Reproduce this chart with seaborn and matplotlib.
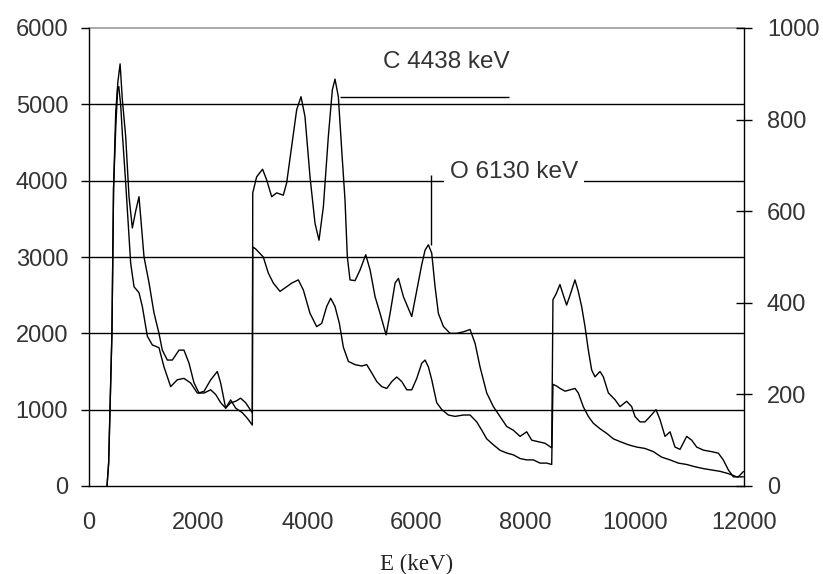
import matplotlib
matplotlib.use("Agg")
import matplotlib.pyplot as plt
import seaborn as sns

# ---------------- data ----------------
# Spectrum A (left axis, counts)
E_A = [330, 360, 385, 420, 450, 490, 530, 570, 611, 672, 733, 794, 855, 916, 1008, 1100,
       1190, 1282, 1343, 1435, 1527, 1649, 1740, 1832, 1924, 2015, 2107, 2229, 2351, 2412,
       2504, 2595, 2687, 2779, 2870, 2992, 3000, 3071, 3180, 3255, 3347, 3438, 3560, 3621,
       3713, 3805, 3884, 3957, 4049, 4141, 4214, 4294, 4385, 4458, 4507, 4568, 4630, 4690,
       4733, 4782, 4874, 4966, 5070, 5150, 5241, 5333, 5443, 5516, 5608, 5669, 5760, 5913,
       6005, 6096, 6157, 6218, 6279, 6340, 6401, 6493, 6615, 6737, 6859, 6981, 7073, 7164,
       7286, 7408, 7531, 7653, 7775, 7897, 8019, 8111, 8233, 8355, 8477, 8500, 8560, 8628,
       8690, 8750, 8813, 8903, 8960, 9026, 9087, 9148, 9209, 9270, 9362, 9423, 9515, 9637,
       9728, 9850, 9942, 10003, 10095, 10186, 10278, 10388, 10461, 10553, 10645, 10736,
       10828, 10950, 11042, 11133, 11255, 11408, 11530, 11622, 11714, 11805, 11897, 11989]
A = [0, 300, 1000, 2000, 3900, 4900, 5300, 5530, 5060, 4580, 3790, 3380, 3600, 3790, 3000, 2660,
     2270, 2000, 1780, 1650, 1650, 1780, 1780, 1610, 1350, 1220, 1240, 1390, 1500, 1350,
     1020, 1090, 1110, 1150, 1090, 960, 3840, 4050, 4150, 4010, 3790, 3840, 3810, 3970,
     4450, 4930, 5100, 4840, 4050, 3440, 3220, 3660, 4580, 5190, 5330, 5100, 4400, 3750,
     3000, 2700, 2690, 2830, 3030, 2830, 2480, 2260, 1980, 2260, 2660, 2720, 2480, 2220,
     2560, 2900, 3090, 3160, 3050, 2610, 2260, 2090, 2000, 2000, 2020, 2050, 1870, 1560,
     1220, 1040, 910, 780, 730, 650, 710, 600, 580, 560, 500, 2440, 2520, 2640,
     2500, 2370, 2500, 2700, 2560, 2350, 2090, 1780, 1520, 1430, 1500, 1430, 1220, 1130,
     1040, 1110, 1040, 910, 840, 840, 910, 1000, 870, 650, 710, 510,
     480, 650, 600, 510, 470, 450, 430, 340, 210, 120, 120, 190]

# Spectrum B (right axis, counts)
E_B = [330, 360, 385, 420, 450, 490, 525, 545, 580, 611, 672, 733, 763, 825, 916, 977,
       1069, 1160, 1282, 1374, 1496, 1618, 1740, 1862, 1985, 2107, 2229, 2320, 2412, 2504,
       2595, 2687, 2809, 2900, 2992, 3000, 3050, 3193, 3285, 3377, 3499, 3621, 3713, 3835,
       3927, 4049, 4171, 4263, 4355, 4428, 4507, 4587, 4660, 4752, 4874, 4996, 5088, 5180,
       5272, 5363, 5455, 5547, 5638, 5730, 5822, 5913, 6005, 6096, 6157, 6218, 6279, 6370,
       6462, 6584, 6706, 6859, 6981, 7103, 7195, 7286, 7408, 7531, 7653, 7775, 7897, 8019,
       8141, 8263, 8386, 8477, 8500, 8570, 8630, 8722, 8813, 8904, 8965, 9056, 9148, 9240,
       9362, 9484, 9606, 9728, 9881, 10034, 10186, 10339, 10492, 10645, 10797, 10950,
       11103, 11255, 11408, 11561, 11714, 11866, 11988]
B = [0, 50, 167, 333, 650, 783, 867, 872, 833, 770, 662, 545, 487, 435, 422, 392,
     327, 308, 302, 260, 217, 232, 235, 225, 203, 203, 210, 200, 182, 170,
     188, 170, 160, 148, 133, 522, 518, 500, 465, 443, 425, 435, 443, 450,
     428, 377, 348, 355, 392, 410, 392, 355, 303, 272, 265, 262, 265, 247,
     228, 217, 213, 228, 238, 228, 210, 210, 235, 268, 275, 260, 232, 182,
     167, 155, 152, 155, 155, 140, 122, 103, 90, 78, 72, 68, 60, 57,
     57, 50, 50, 47, 222, 218, 213, 207, 210, 213, 203, 173, 152, 137,
     125, 115, 103, 97, 90, 85, 82, 75, 63, 57, 50, 47,
     42, 38, 35, 32, 27, 20, 20]

x_ticks = [0, 2000, 4000, 6000, 8000, 10000, 12000]
left_ticks = [0, 1000, 2000, 3000, 4000, 5000, 6000]
right_ticks = [0, 200, 400, 600, 800, 1000]

label_C = "C 4438 keV"
label_O = "O 6130 keV"
C_line_x = (4600, 7690)
C_line_y = 5090
O_line_x = 6265
O_line_y = (3160, 4080)

# ---------------- plot ----------------
sns.set_style("white")
plt.rcParams['font.family'] = ['Liberation Sans', 'DejaVu Sans']

fig = plt.figure(figsize=(8.23, 5.74), dpi=100)
ax = fig.add_axes([89 / 823, 88 / 574, 655 / 823, 458 / 574])
ax2 = ax.twinx()

sns.lineplot(x=E_A, y=A, ax=ax, color="black", lw=1.0, sort=False, estimator=None)
sns.lineplot(x=E_B, y=B, ax=ax2, color="black", lw=1.0, sort=False, estimator=None)

ax.set_xlim(0, 12000)
ax.set_ylim(0, 6000)
ax2.set_ylim(0, 1000)
ax.set_xticks(x_ticks)
ax.set_yticks(left_ticks)
ax2.set_yticks(right_ticks)

# gridlines
for v in left_ticks[1:-1]:
    ax.axhline(v, color="black", lw=1.0, zorder=0.5)
ax.axhline(left_ticks[-1], color="#9a9a9a", lw=1.2, zorder=0.5, clip_on=False)

for a in (ax, ax2):
    a.spines["top"].set_visible(False)
    for s in ("left", "right", "bottom"):
        a.spines[s].set_color("black")
        a.spines[s].set_linewidth(1.0)
ax.spines["right"].set_visible(False)
ax2.spines["left"].set_visible(False)
ax2.spines["bottom"].set_visible(False)

tick_col = "#333333"
ax.tick_params(axis="y", direction="out", length=6, width=1, color="black",
               labelsize=17, pad=9, labelcolor=tick_col)
ax.tick_params(axis="x", direction="out", length=5, width=1, color="black",
               labelsize=17, pad=14, labelcolor=tick_col)
ax2.tick_params(axis="y", direction="inout", length=11, width=1, color="black",
                labelsize=17, pad=11, labelcolor=tick_col, left=False, right=True)

ax.set_xlabel("E (keV)", fontsize=16.5, family=["Liberation Serif", "DejaVu Serif"],
              color="#222222", labelpad=14)
ax.set_ylabel("")
ax2.set_ylabel("")

# annotations
ax.hlines(C_line_y, C_line_x[0], C_line_x[1], color="black", lw=1.0)
ax.vlines(O_line_x, O_line_y[0], O_line_y[1], color="black", lw=1.0)
ax.text(5390, 5560, label_C, fontsize=17.5, va="center", ha="left", color=tick_col)
ax.text(6615, 4110, label_O, fontsize=17.5, va="center", ha="left", color=tick_col,
        bbox=dict(boxstyle="square,pad=0.25", fc="white", ec="none"), zorder=3)

fig.savefig("out.png", dpi=100)
